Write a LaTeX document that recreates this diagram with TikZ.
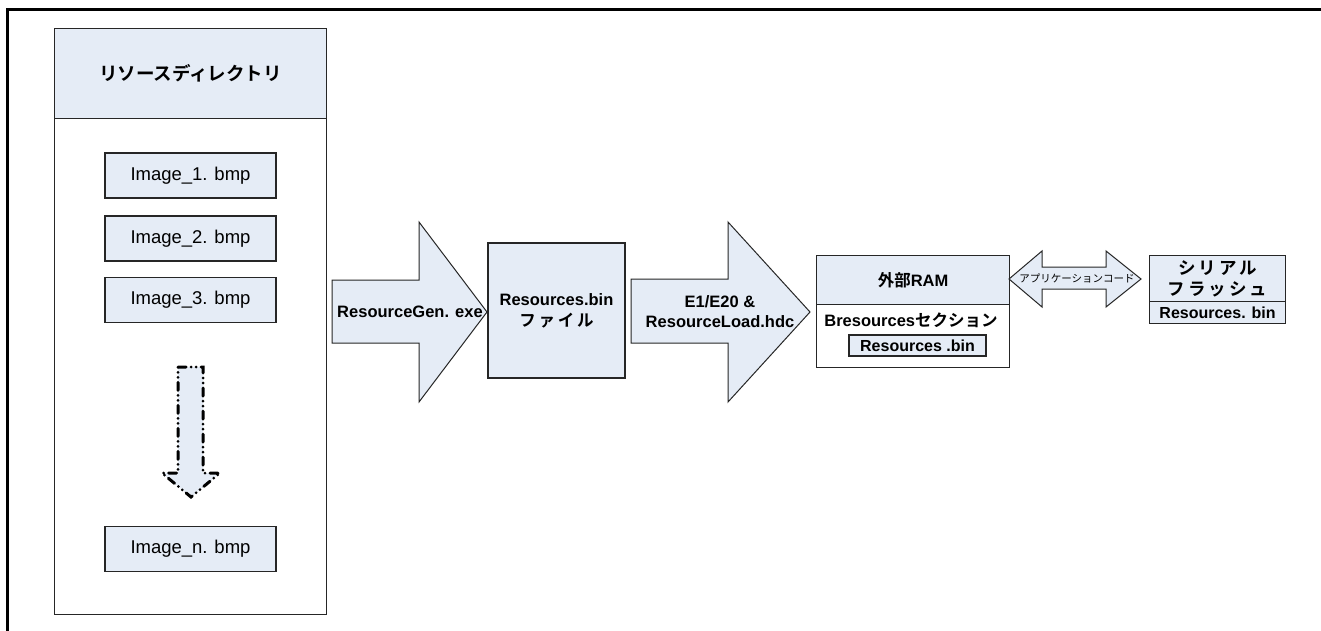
\documentclass[tikz,border=0pt]{standalone}
\usepackage{fontspec}
\setmainfont{Liberation Sans}
\newfontfamily\jpfont{Noto Sans CJK JP}[BoldFont={Noto Sans CJK JP Bold}]
\newcommand{\jp}[1]{{\jpfont #1}}
\definecolor{boxblue}{RGB}{229,236,246}
\tikzset{
  panel/.style={draw=black!85, line width=1.1pt, fill=boxblue, inner sep=0pt},
  imgbox/.style={panel, minimum width=171pt, minimum height=45pt,
    font=\fontsize{18.5}{22}\selectfont},
  lbl/.style={font=\bfseries\fontsize{16.5}{20}\selectfont, align=center, inner sep=0pt},
  blockarrow/.style={draw=black!85, line width=1pt, fill=boxblue, line join=miter},
}
\begin{document}
\begin{tikzpicture}[x=1pt, y=-1pt]
\useasboundingbox (0,0) rectangle (1321,631);

% frame
\draw[line width=3pt] (1321,10) -- (7,10) -- (7,631);

% resource directory
\node[draw=black!85, line width=1.1pt, anchor=north west, minimum width=272pt,
  minimum height=586pt, inner sep=0pt] (dir) at (54,28) {};
\node[panel, anchor=north west, minimum width=272pt, minimum height=90pt,
  font=\bfseries\fontsize{18.5}{22}\selectfont] (dirhead) at (54,28) {\jp{リソースディレクトリ}};
\node[imgbox] (img1) at (190.5,175.5) {Image\_1. bmp};
\node[imgbox] (img2) at (190.5,238.5) {Image\_2. bmp};
\node[imgbox] (img3) at (190.5,300) {Image\_3. bmp};
\node[imgbox] (imgn) at (190.5,549) {Image\_n. bmp};

% dotted arrow
\draw[fill=boxblue, line width=3pt, line cap=round,
  dash pattern=on 8pt off 5pt on 0pt off 5pt on 0pt off 5pt]
  (178,367) -- (203,367) -- (203,473) -- (220,473) -- (191,497)
  -- (162,473) -- (178,473) -- cycle;

% generator arrow
\draw[blockarrow] (332,280) -- (419,280) -- (419,222) -- (487,312)
  -- (419,402) -- (419,343) -- (332,343) -- cycle;
\node[lbl] (gen) at (410,312) {ResourceGen. exe};

% Resources.bin file
\node[panel, minimum width=137pt, minimum height=135pt] (resbin) at (556.5,310.5) {};
\node[lbl] (resbintxt) at (resbin) {Resources.bin\\[1pt]\jp{フ\,ァ\,イ\,ル}};

% loader arrow
\draw[blockarrow] (631,279) -- (728,279) -- (728,222) -- (810,312)
  -- (728,402) -- (728,343) -- (631,343) -- cycle;
\node[lbl] (load) at (720,312) {E1/E20 \&\\ResourceLoad.hdc};

% external RAM
\node[panel, anchor=north west, minimum width=193pt, minimum height=49pt,
  lbl] (ramhead) at (816,255) {\jp{外部}RAM};
\node[panel, fill=white, anchor=north west, minimum width=193pt,
  minimum height=63pt] (ram) at (816,304) {};
\node[lbl] (ramsec) at (911,320) {Bresources\jp{セクション}};
\node[panel, minimum width=137pt, minimum height=21pt, lbl,
  font=\bfseries\fontsize{16}{19}\selectfont] (ramres) at (917.5,345.5) {Resources .bin};

% application code arrow
\draw[blockarrow] (1009,279) -- (1042,251) -- (1042,267) -- (1106,267)
  -- (1106,251) -- (1141,279) -- (1106,307) -- (1106,289) -- (1042,289)
  -- (1042,307) -- cycle;
\node[font=\fontsize{10.5}{12}\selectfont, inner sep=0pt] (appcode) at (1077,278)
  {\jp{アプリケーションコード}};

% serial flash
\node[panel, anchor=north west, minimum width=136pt, minimum height=46pt,
  lbl, font=\bfseries\fontsize{17.5}{21}\selectfont] (flashhead) at (1149,255)
  {\jp{シ\,リ\,ア\,ル}\\\jp{フ\,ラ\,ッ\,シ\,ュ}};
\node[panel, anchor=north west, minimum width=136pt, minimum height=22pt,
  lbl, font=\bfseries\fontsize{16}{19}\selectfont] (flashres) at (1149,301)
  {Resources. bin};

\end{tikzpicture}
\end{document}
